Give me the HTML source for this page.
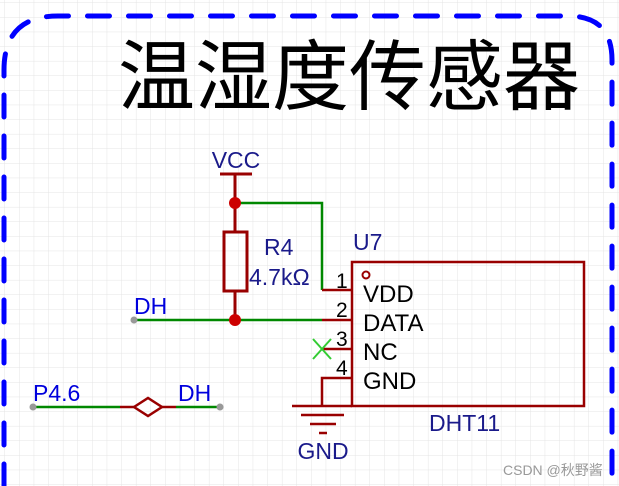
<!DOCTYPE html>
<html><head><meta charset="utf-8"><style>
html,body{margin:0;padding:0;background:#fff;}
body{width:619px;height:486px;overflow:hidden;position:relative;}
svg{position:absolute;left:0;top:0;}
text{font-family:"Liberation Sans","Noto Sans CJK SC",sans-serif;}
</style></head><body>
<svg width="619" height="486" viewBox="0 0 619 486">
<defs>
<pattern id="g" width="14.6" height="14.6" patternUnits="userSpaceOnUse" x="5" y="3">
<path d="M14.6 0V14.6M0 14.6H14.6" stroke="#e4e4e4" stroke-width="1" fill="none"/>
</pattern>
</defs>
<rect width="619" height="486" fill="url(#g)"/>
<path d="M4 486 V70 Q4 16 58 16 H568 Q612 16 612 60 V486" fill="none" stroke="#0000ff" stroke-width="5" stroke-dasharray="22 19" stroke-linecap="round"/>
<text x="118" y="104" font-size="77" fill="#000" style="font-family:'Noto Sans CJK SC',sans-serif" textLength="462">温湿度传感器</text>
<text x="236" y="168" font-size="23" fill="#1a1a8a" text-anchor="middle">VCC</text>
<line x1="220" y1="174" x2="252" y2="174" stroke="#990000" stroke-width="3"/>
<line x1="235" y1="174" x2="235" y2="232" stroke="#990000" stroke-width="3"/>
<rect x="224" y="232" width="23" height="59" fill="none" stroke="#990000" stroke-width="3"/>
<line x1="235" y1="291" x2="235" y2="320" stroke="#990000" stroke-width="3"/>
<polyline points="235,203 322,203 322,290" fill="none" stroke="#008800" stroke-width="2.5"/>
<line x1="322" y1="290" x2="352" y2="290" stroke="#990000" stroke-width="2.5"/>
<line x1="134" y1="320" x2="322" y2="320" stroke="#008800" stroke-width="2.5"/>
<line x1="322" y1="320" x2="352" y2="320" stroke="#990000" stroke-width="2.5"/>
<circle cx="235" cy="203" r="6" fill="#cc0000"/>
<circle cx="235" cy="320" r="6" fill="#cc0000"/>
<circle cx="134" cy="320" r="3.5" fill="#999"/>
<text x="134" y="314" font-size="23" fill="#0000dd">DH</text>
<text x="264" y="255" font-size="23" fill="#1a1a8a">R4</text>
<text x="249" y="285" font-size="23" fill="#1a1a8a">4.7kΩ</text>
<text x="353" y="250" font-size="23" fill="#1a1a8a">U7</text>
<rect x="352" y="262" width="232" height="144" fill="none" stroke="#990000" stroke-width="2.5"/>
<circle cx="366" cy="275" r="3.5" fill="none" stroke="#990000" stroke-width="2"/>
<line x1="322" y1="349" x2="352" y2="349" stroke="#990000" stroke-width="2.5"/>
<polyline points="352,378 322,378 322,406" fill="none" stroke="#990000" stroke-width="2.5"/>
<line x1="292" y1="406" x2="352" y2="406" stroke="#990000" stroke-width="2.5"/>
<line x1="313" y1="339" x2="331" y2="359" stroke="#33cc33" stroke-width="2"/>
<line x1="331" y1="339" x2="313" y2="359" stroke="#33cc33" stroke-width="2"/>
<g font-size="21" fill="#000">
<text x="336" y="288">1</text><text x="336" y="317">2</text><text x="336" y="346">3</text><text x="336" y="375">4</text>
<text x="363" y="302" font-size="24">VDD</text><text x="363" y="331" font-size="24">DATA</text>
<text x="363" y="360" font-size="24">NC</text><text x="363" y="389" font-size="24">GND</text>
</g>
<text x="429" y="431" font-size="23" fill="#1a1a8a">DHT11</text>
<line x1="301" y1="415" x2="344" y2="415" stroke="#990000" stroke-width="2.5"/>
<line x1="310" y1="424" x2="336" y2="424" stroke="#990000" stroke-width="2.5"/>
<line x1="319" y1="433" x2="327" y2="433" stroke="#990000" stroke-width="2.5"/>
<text x="323" y="459" font-size="23" fill="#1a1a8a" text-anchor="middle">GND</text>
<line x1="33" y1="407" x2="120" y2="407" stroke="#008800" stroke-width="2.5"/>
<line x1="120" y1="407" x2="134" y2="407" stroke="#990000" stroke-width="2.5"/>
<polygon points="134,407 148,398 162,407 148,416" fill="none" stroke="#990000" stroke-width="2.5"/>
<line x1="162" y1="407" x2="176" y2="407" stroke="#990000" stroke-width="2.5"/>
<line x1="176" y1="407" x2="220" y2="407" stroke="#008800" stroke-width="2.5"/>
<circle cx="33" cy="407" r="3.5" fill="#999"/>
<circle cx="220" cy="407" r="3.5" fill="#999"/>
<text x="33" y="401" font-size="23" fill="#0000dd">P4.6</text>
<text x="178" y="401" font-size="23" fill="#0000dd">DH</text>
<text x="503" y="475" font-size="14" fill="#999">CSDN @秋野酱</text>
</svg>
</body></html>
